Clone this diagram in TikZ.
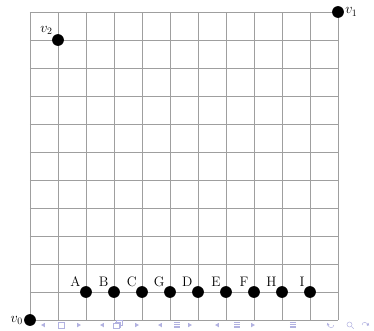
\documentclass[tikz,border=0pt]{standalone}
\usepackage{tikz}
\usetikzlibrary{positioning}
\definecolor{navcol}{RGB}{178,178,225}

\begin{document}
\begin{tikzpicture}[
    gridline/.style={draw=gray!75, line width=0.6pt},
    vertex/.style={circle, fill=black, inner sep=0pt, minimum size=0.42cm},
    lbl/.style={font=\fontsize{14}{16}\selectfont, inner sep=1pt},
    navtri/.style={fill=navcol, draw=none},
    navline/.style={draw=navcol, line width=0.5pt}
  ]
    \useasboundingbox (-1.071,-0.357) rectangle (12.286,11.429);

    % grid
    \draw[gridline] (0,0) grid (11,11);

    % corner vertices
    \node[vertex, label={[lbl]left:$v_0$}] (v0) at (0,0) {};
    \node[vertex, label={[lbl]right:$v_1$}] (v1) at (11,11) {};
    \node[vertex, label={[lbl]above left:$v_2$}] (v2) at (1,10) {};

    % points on the second row
    \foreach \name [count=\i from 2] in {A,B,C,G,D,E,F,H,I}
      \node[vertex, label={[lbl]above left:\name}] (p\name) at (\i,1) {};

    % navigation bar
    \begin{scope}[yshift=-0.179cm]
      \foreach \x in {0.464,2.571,4.643,6.679}
        \fill[navtri] (\x-0.07,0) -- (\x+0.07,0.08) -- (\x+0.07,-0.08) -- cycle;
      \foreach \x in {1.75,3.821,5.714,7.964}
        \fill[navtri] (\x+0.07,0) -- (\x-0.07,0.08) -- (\x-0.07,-0.08) -- cycle;
      \draw[navline] (1.0,-0.1) rectangle (1.214,0.1);
      \draw[navline] (2.98,-0.12) rectangle (3.18,0.06);
      \draw[navline] (3.03,0.06) -- (3.03,0.11) -- (3.23,0.11) -- (3.23,-0.07) -- (3.18,-0.07);
      \draw[navline] (3.08,0.11) -- (3.08,0.16) -- (3.28,0.16) -- (3.28,-0.02) -- (3.23,-0.02);
      \foreach \x in {5.25,7.393,9.393} {
        \draw[navline] (\x-0.11,0.09) -- (\x+0.11,0.09);
        \draw[navline] (\x-0.11,0.03) -- (\x+0.11,0.03);
        \draw[navline] (\x-0.11,-0.03) -- (\x+0.11,-0.03);
        \draw[navline] (\x-0.11,-0.09) -- (\x+0.11,-0.09);
      }
      \draw[navline] (10.85,0.0) arc (0:-200:0.1);
      \fill[navtri] (10.62,0.08) -- (10.7,0.0) -- (10.6,-0.02) -- cycle;
      \draw[navline] (11.41,0.02) circle (0.09);
      \draw[navline] (11.48,-0.05) -- (11.56,-0.13);
      \draw[navline] (11.86,0.0) arc (180:-20:0.1);
      \fill[navtri] (12.09,0.08) -- (12.01,0.0) -- (12.11,-0.02) -- cycle;
    \end{scope}
  \end{tikzpicture}
\end{document}
